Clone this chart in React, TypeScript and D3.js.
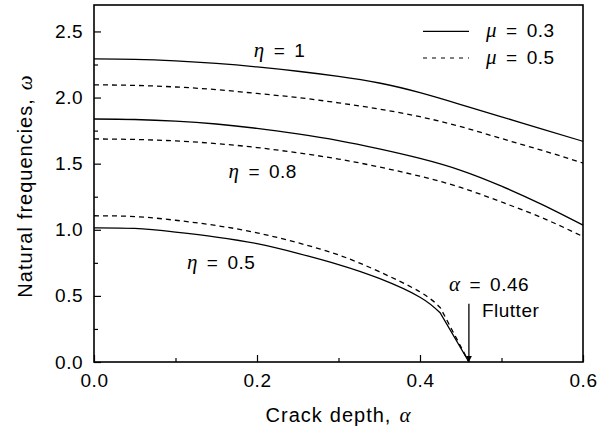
import React, { useRef, useEffect } from 'react'
import { select, scaleLinear, axisBottom, axisLeft, line, curveNatural, format } from 'd3'

// crack depth samples
const alpha = [0, 0.05, 0.1, 0.15, 0.2, 0.25, 0.3, 0.35, 0.4, 0.45, 0.5, 0.55, 0.6]
const alphaFlutter = [0, 0.05, 0.1, 0.15, 0.2, 0.25, 0.3, 0.35, 0.4, 0.425, 0.46]

// eta = 1
const eta1Mu03 = [2.293, 2.289, 2.277, 2.258, 2.232, 2.199, 2.16, 2.11, 2.037, 1.947, 1.854, 1.762, 1.669]
const eta1Mu05 = [2.096, 2.092, 2.08, 2.06, 2.031, 2.0, 1.96, 1.913, 1.855, 1.78, 1.69, 1.6, 1.505]
// eta = 0.8
const eta08Mu03 = [1.838, 1.834, 1.822, 1.8, 1.767, 1.725, 1.675, 1.612, 1.54, 1.45, 1.33, 1.19, 1.035]
const eta08Mu05 = [1.687, 1.683, 1.672, 1.652, 1.622, 1.582, 1.535, 1.475, 1.405, 1.32, 1.21, 1.09, 0.949]
// eta = 0.5 (flutter at alpha = 0.46)
const eta05Mu03 = [1.015, 1.01, 0.982, 0.945, 0.895, 0.822, 0.737, 0.632, 0.49, 0.37, 0]
const eta05Mu05 = [1.106, 1.1, 1.072, 1.032, 0.977, 0.902, 0.81, 0.683, 0.53, 0.41, 0]

const xTicks = [0, 0.2, 0.4, 0.6]
const xMinor = [0.1, 0.3, 0.5]
const yTicks = [0, 0.5, 1.0, 1.5, 2.0, 2.5]
const yMinor = [0.25, 0.75, 1.25, 1.75, 2.25]

const sans = 'Arial, "Liberation Sans", Helvetica, sans-serif'
const serif = '"Liberation Serif", "Times New Roman", serif'

export default function App() {
  const canvas = useRef(null)

  const W = 609, H = 429
  const margin = { top: 5, right: 26, bottom: 67, left: 94 }
  const width = W - margin.left - margin.right
  const height = H - margin.top - margin.bottom

  useEffect(() => {
    const root = select(canvas.current)
    root.selectAll('*').remove()
    const svg = root.append('g').attr('transform', `translate(${margin.left},${margin.top})`)

    const x = scaleLinear().domain([0, 0.6]).range([0, width])
    const y = scaleLinear().domain([0, 2.7]).range([height, 0])

    const defs = root.append('defs')
    defs.append('marker').attr('id', 'arr').attr('viewBox', '0 0 10 10').attr('refX', 10).attr('refY', 5)
      .attr('markerWidth', 6).attr('markerHeight', 9).attr('markerUnits', 'userSpaceOnUse').attr('orient', 'auto')
      .append('path').attr('d', 'M0,0 L10,5 L0,10 z').attr('fill', '#000')

    // minor ticks
    svg.append('g').attr('transform', `translate(0,${height})`)
      .call(axisBottom(x).tickValues(xMinor).tickSize(-4).tickFormat(() => ''))
    svg.append('g').call(axisLeft(y).tickValues(yMinor).tickSize(-4).tickFormat(() => ''))

    // major ticks
    const xAxis = svg.append('g').attr('transform', `translate(0,${height})`)
      .call(axisBottom(x).tickValues(xTicks).tickSize(-7).tickFormat(format('.1f')))
    svg.append('g')
      .call(axisLeft(y).tickValues(yTicks).tickSize(-7).tickPadding(11).tickFormat(format('.1f')))

    svg.selectAll('.domain').remove()
    svg.selectAll('.tick line').attr('stroke', '#000').attr('stroke-width', 1.2)
    xAxis.selectAll('text').attr('dy', '0').attr('y', 25)
    svg.selectAll('.tick text').attr('font-family', sans).attr('font-size', 19)
      .attr('letter-spacing', 0.5).attr('fill', '#000')

    // frame
    svg.append('rect').attr('width', width).attr('height', height)
      .attr('fill', 'none').attr('stroke', '#000').attr('stroke-width', 1.6)

    const curves = [
      { xs: alpha, ys: eta1Mu03, dash: null, kink: false },
      { xs: alpha, ys: eta1Mu05, dash: '5,4', kink: false },
      { xs: alpha, ys: eta08Mu03, dash: null, kink: false },
      { xs: alpha, ys: eta08Mu05, dash: '5,4', kink: false },
      { xs: alphaFlutter, ys: eta05Mu03, dash: null, kink: true },
      { xs: alphaFlutter, ys: eta05Mu05, dash: '5,4', kink: true },
    ]
    const gen = line<[number, number]>().x(d => x(d[0])).y(d => y(d[1])).curve(curveNatural)
    curves.forEach(c => {
      const pts = c.xs.map((a, i) => [a, c.ys[i]] as [number, number])
      let d
      if (c.kink) {
        // smooth up to the knee, straight drop to the flutter point
        const last = pts[pts.length - 1]
        d = gen(pts.slice(0, -1)) + `L${x(last[0])},${y(last[1])}`
      } else {
        d = gen(pts)
      }
      svg.append('path').attr('d', d)
        .attr('fill', 'none').attr('stroke', '#000').attr('stroke-width', 1.3)
        .attr('stroke-dasharray', c.dash)
    })

    // labels with greek symbols
    const label = (px, py, sym, val) => {
      const t = svg.append('text').attr('x', px).attr('y', py)
        .attr('font-family', sans).attr('font-size', 19).attr('letter-spacing', 0.5).attr('fill', '#000')
      t.append('tspan').attr('font-family', serif).attr('font-style', 'italic').attr('font-size', 21).text(sym)
      t.append('tspan').attr('dx', 9).text('=')
      t.append('tspan').attr('dx', 9).text(val)
    }
    label(x(0.196), y(2.31), 'η', '1')
    label(x(0.165), y(1.39), 'η', '0.8')
    label(x(0.114), y(0.7), 'η', '0.5')
    label(x(0.4355), y(0.54), 'α', '0.46')

    svg.append('text').attr('x', x(0.476)).attr('y', y(0.34))
      .attr('font-family', sans).attr('font-size', 19).attr('letter-spacing', 0.5).attr('fill', '#000').text('Flutter')

    svg.append('line').attr('x1', x(0.46)).attr('x2', x(0.46)).attr('y1', y(0.44)).attr('y2', y(0))
      .attr('stroke', '#000').attr('stroke-width', 1.3).attr('marker-end', 'url(#arr)')

    // legend
    const leg = [{ val: '0.3', dash: null, ly: 26.3, ty: 32 }, { val: '0.5', dash: '4,5', ly: 53, ty: 59 }]
    leg.forEach(l => {
      svg.append('line').attr('x1', 329).attr('x2', 375).attr('y1', l.ly).attr('y2', l.ly)
        .attr('stroke', '#000').attr('stroke-width', 1.2).attr('stroke-dasharray', l.dash)
      const t = svg.append('text').attr('x', 392).attr('y', l.ty)
        .attr('font-family', sans).attr('font-size', 19).attr('letter-spacing', 0.5).attr('fill', '#000')
      t.append('tspan').attr('font-family', serif).attr('font-style', 'italic').attr('font-size', 21).text('μ')
      t.append('tspan').attr('dx', 9).text('=')
      t.append('tspan').attr('dx', 9).text(l.val)
    })

    // axis titles
    const xt = root.append('text').attr('x', margin.left + width / 2).attr('y', 422).attr('text-anchor', 'middle')
      .attr('font-family', sans).attr('font-size', 20).attr('letter-spacing', 1).attr('fill', '#000')
    xt.append('tspan').text('Crack')
    xt.append('tspan').attr('dx', 7).text('depth,')
    xt.append('tspan').attr('dx', 8).attr('font-family', serif).attr('font-style', 'italic').attr('font-size', 21).text('α')

    const yt = root.append('text').attr('transform', `translate(31.5,${margin.top + 181}) rotate(-90)`)
      .attr('text-anchor', 'middle').attr('font-family', sans).attr('font-size', 20).attr('letter-spacing', 1).attr('fill', '#000')
    yt.append('tspan').text('Natural')
    yt.append('tspan').attr('dx', 7).text('frequencies,')
    yt.append('tspan').attr('dx', 8).attr('font-family', serif).attr('font-style', 'italic').attr('font-size', 21).text('ω')
  })

  return (
    <svg ref={canvas} width={W} height={H} style={{ position: 'absolute', left: 0, top: 0, background: '#fff' }} />
  )
}
